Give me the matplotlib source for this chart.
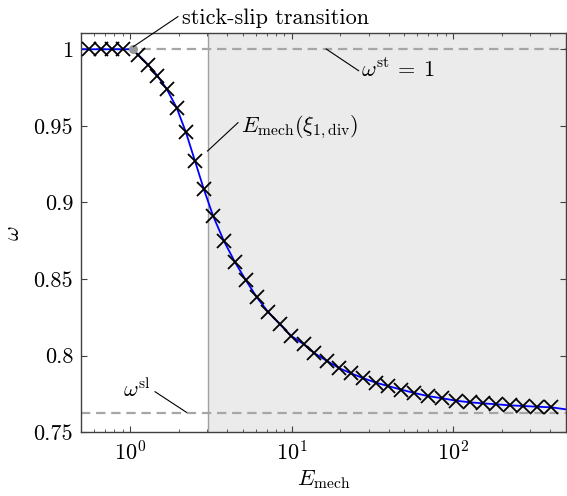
import matplotlib
matplotlib.use("Agg")
import matplotlib.pyplot as plt
from matplotlib.ticker import FixedLocator, FixedFormatter, LogLocator

plt.rcParams["font.family"] = "serif"
plt.rcParams["font.serif"] = ["cmr10"]
plt.rcParams["mathtext.fontset"] = "cm"
plt.rcParams["axes.formatter.use_mathtext"] = True

# stick regime (omega = 1) and the transition point
E_stick = [0.56, 0.656, 0.769, 0.903]
omega_stick = [1.0, 1.0, 1.0, 1.0]
E_trans = 1.04
omega_trans = 1.0

# slip regime samples
E_slip = [1.125, 1.297, 1.474, 1.685, 1.942, 2.217, 2.519, 2.862, 3.268, 3.802,
          4.443, 5.20, 6.10, 7.14, 8.43, 9.96, 11.86, 13.87, 16.51, 19.78,
          23.37, 27.82, 33.33, 39.6, 47.6, 57.4, 69.6, 85.9, 104.8, 126.8,
          153.2, 185.1, 223.9, 270.4, 331.5, 406.8]
omega_slip = [0.9963, 0.9898, 0.9828, 0.9741, 0.9619, 0.9458, 0.9273, 0.9087,
              0.8912, 0.8751, 0.8614, 0.8494, 0.8381, 0.8287, 0.8207, 0.8129,
              0.8076, 0.8016, 0.7967, 0.7918, 0.7885, 0.7853, 0.7824, 0.7802,
              0.7779, 0.7757, 0.7737, 0.7722, 0.7706, 0.7696, 0.7689, 0.7683,
              0.7676, 0.7672, 0.7667, 0.7663]

# continuous curve
line_E = [0.5] + E_stick + [E_trans] + E_slip + [500]
line_omega = [1.0] + omega_stick + [omega_trans] + omega_slip + [0.7650]

omega_st = 1.0
omega_sl = 0.7624
E_div = 3.02

yticks = [0.75, 0.8, 0.85, 0.9, 0.95, 1.0]
ytick_labels = ["0.75", "0.8", "0.85", "0.9", "0.95", "1"]

fig = plt.figure(figsize=(5.67, 4.96), dpi=100)
ax = fig.add_axes([0.1437, 0.1284, 0.8543, 0.8041])

ax.axvspan(E_div, 500, color="#ebebeb", lw=0, zorder=0)
ax.axvline(E_div, color="#a0a0a0", lw=1.0, zorder=1)
ax.axhline(omega_st, color="#a6a6a6", lw=1.6, ls=(0, (4.2, 2.6)), zorder=1)
ax.axhline(omega_sl, color="#a6a6a6", lw=1.6, ls=(0, (4.2, 2.6)), zorder=1)

ax.plot(line_E, line_omega, color="#0000ff", lw=1.3, zorder=2)
ax.plot(E_stick + E_slip, omega_stick + omega_slip, ls="none", marker="x",
        ms=9.5, mew=1.3, color="black", zorder=3)
ax.plot([E_trans], [omega_trans], ls="none", marker="o", ms=5.5,
        color="#999999", zorder=4)

ax.set_xscale("log")
ax.set_xlim(0.5, 500)
ax.set_ylim(0.75, 1.0103)
ax.yaxis.set_major_locator(FixedLocator(yticks))
ax.yaxis.set_major_formatter(FixedFormatter(ytick_labels))
ax.xaxis.set_major_locator(LogLocator(base=10, numticks=10))
ax.xaxis.set_minor_locator(LogLocator(base=10, subs=range(2, 10), numticks=20))

ax.tick_params(which="both", direction="in", top=True, right=True,
               labelsize=16, color="#404040")
ax.tick_params(which="major", length=4.0, width=0.8, pad=6)
ax.tick_params(which="minor", length=2.2, width=0.6)
for s in ax.spines.values():
    s.set_color("#404040")
    s.set_linewidth(1.0)

ax.set_xlabel(r"$E_{\rm mech}$", fontsize=16)
ax.set_ylabel(r"$\omega$", fontsize=16)
ax.xaxis.set_label_coords(0.5, -0.09)
ax.yaxis.set_label_coords(-0.12, 0.5)

# annotations
lkw = dict(color="black", lw=0.8, clip_on=False, zorder=5)
ax.plot([1.048, 1.978], [1.0017, 1.0213], **lkw)
ax.text(2.085, 1.0165, "stick-slip transition", fontsize=16,
        ha="left", va="baseline")

ax.plot([16.37, 26.03], [1.0002, 0.9860], **lkw)
ax.text(26.9, 0.9819, r"$\omega^{\rm st}\,=\;1$", fontsize=16,
        ha="left", va="baseline")

ax.plot([3.017, 4.661], [0.9336, 0.9521], **lkw)
ax.text(4.893, 0.9458, r"$E_{\rm mech}(\xi_{1,\rm div})$", fontsize=16,
        ha="left", va="baseline")

ax.plot([1.427, 2.239], [0.7765, 0.7630], **lkw)
ax.text(1.329, 0.7732, r"$\omega^{\rm sl}$", fontsize=16,
        ha="right", va="baseline")

fig.savefig("out.png", dpi=100)
